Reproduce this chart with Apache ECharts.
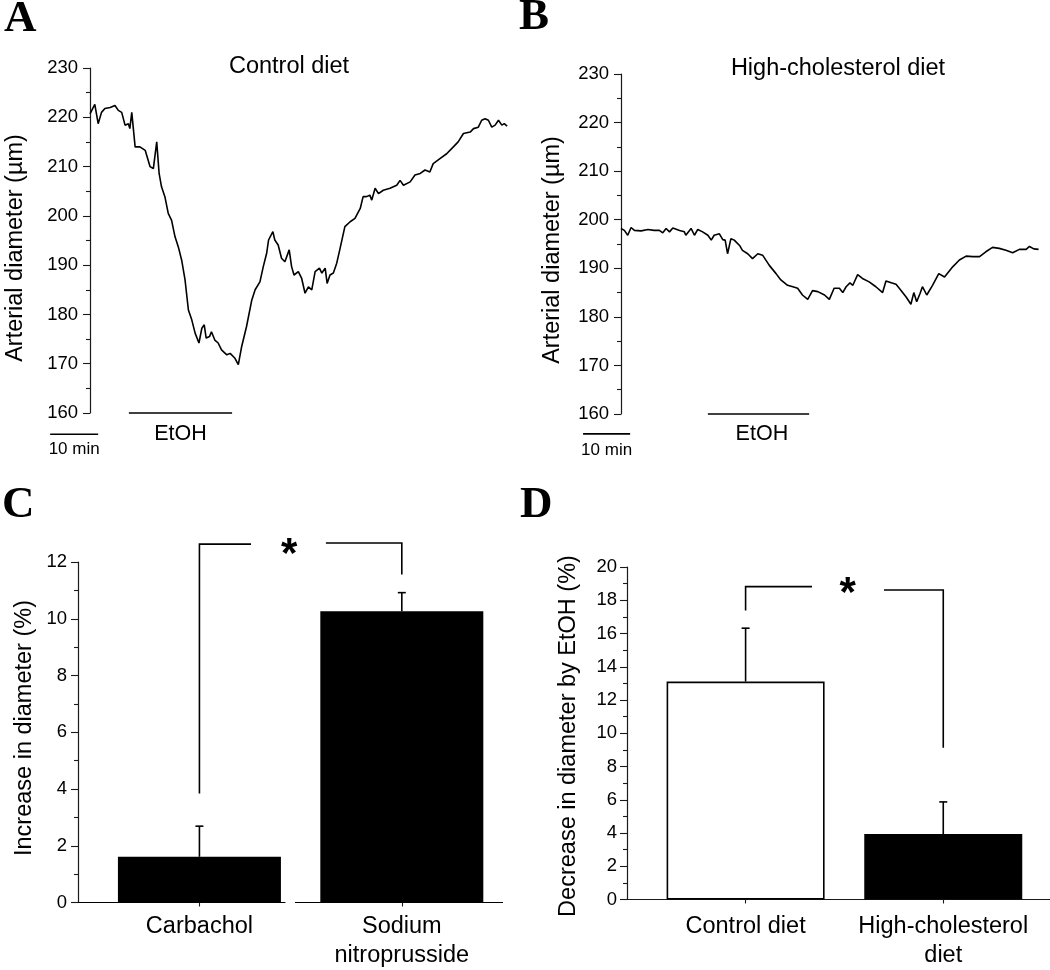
<!DOCTYPE html>
<html><head><meta charset="utf-8">
<script src="https://cdn.jsdelivr.net/npm/echarts@6/dist/echarts.min.js"></script>
<style>html,body{margin:0;padding:0;background:#fff}#c{width:1050px;height:970px}</style>
</head><body><div id="c"></div>
<script>
// ---------- DATA ----------
// Panel A: control diet trace (time in min, diameter in µm)
const timeA = [0,1.0,1.7,2.4,3.1,4.2,5.2,5.9,6.6,7.3,8.0,8.3,8.7,9.4,10.4,11.5,12.5,13.2,13.9,14.4,14.9,15.6,16.3,17.0,17.7,18.4,19.1,19.8,20.5,21.2,21.9,22.7,23.3,23.8,24.2,24.9,25.3,26.0,26.7,27.4,28.5,29.2,30.2,30.9,31.6,32.6,33.7,34.4,35.4,36.1,36.8,37.2,38.1,38.5,39.2,39.9,40.6,41.0,41.5,42.0,42.5,43.4,44.1,44.8,45.5,46.2,46.9,47.8,48.3,49.0,49.4,50.0,50.7,51.4,52.1,53.1,54.2,55.2,56.3,56.9,57.6,58.3,58.7,59.4,60.1,61.1,62.5,63.9,64.6,65.3,66.7,67.7,68.8,69.8,70.8,71.5,72.9,74.3,75.7,76.7,77.8,79.2,79.9,80.9,81.6,82.3,83.0,83.7,84.4,85.1,85.8,86.3,86.9];
const diamA = [220.7,222.6,218.7,221,221.8,222,222.4,221.4,221,218.4,218.7,217.7,221,214,214,213.3,210,209.6,215,208.6,205.9,203.9,200.5,199.1,195.8,193.7,191,187,180.9,178.9,176.2,174.2,177.2,177.9,175.2,175.5,176.5,174.8,174.2,172.8,171.8,172.1,171.1,169.8,173.5,177.5,182.9,185,186.6,189.7,192.4,195.1,196.8,195.1,194.1,191.4,190.7,190.4,193.1,189.7,188,188.7,187.3,184.3,185.6,185,188.7,189.4,188.4,189.4,186.3,188,188.4,190.4,193.4,197.8,198.8,199.5,201.5,203.9,203.9,204.2,203.2,205.6,204.5,205.2,205.6,206.2,207.2,206.2,206.9,208.3,208.6,209.3,208.9,210.6,211.6,212.6,214,215,216.7,217,217.7,218,219.4,219.7,219.4,218,218.4,219.4,218.4,218.7,218.2];
// Panel B: high-cholesterol diet trace
const timeB = [0,0.7,1.4,2.1,2.8,4.2,5.6,6.9,8.0,8.7,9.4,10.1,10.8,12.2,13.2,13.5,14.6,15.3,16.0,17.0,18.1,18.8,19.4,20.5,21.2,21.7,22.2,22.9,23.6,24.7,25.3,26.4,27.4,28.5,29.5,30.9,32.3,33.3,34.7,35.8,36.8,37.8,38.9,39.9,41.0,42.4,43.4,44.4,45.5,46.2,46.9,47.7,48.3,49.3,50.3,51.7,53.1,54.5,55.2,56.3,57.3,58.3,59.4,60.4,61.0,61.6,62.3,62.8,63.7,64.9,66.2,67.4,69.1,70.5,71.9,73.3,74.7,76.0,77.4,78.8,80.2,81.6,83.0,84.4,85.1,86.0,87.0];
const diamB = [198.2,197.8,196.8,198.4,197.8,197.7,198.0,197.8,197.8,197.3,198.2,197.5,198.3,197.8,197.5,196.8,198.2,196.8,198,197.5,196.8,195.8,196.8,197.1,195.9,195.8,193,196.1,195.8,194.7,193.7,193,192,193,192.7,190.6,188.9,187.6,186.5,186.2,185.9,184.5,183.6,185.4,185.2,184.5,183.6,185.9,185.9,185,186.2,187,186.5,188.7,187.9,187.2,186.2,185,187.4,187,186.7,185.5,184.1,182.6,185,183.1,184.8,186.2,184.5,186.5,188.9,188.2,190.3,191.7,192.5,192.4,192.4,193.4,194.3,194.1,193.7,193.2,193.9,193.9,194.5,194.0,193.9];
// EtOH application period (min) and 10-min scale bar
const etohA = [8.1, 29.6];
const etohB = [18.1, 39.2];
const scaleA = [-8.3, 1.7];
const scaleB = [-7.9, 1.9];
const scaleLen = 10; // min
// Panel C
const catC = ['Carbachol', 'Sodium\nnitroprusside'];
const meanC = [1.61, 10.26];
const errC = [1.08, 0.66];
// Panel D
const catD = ['Control diet', 'High-cholesterol\ndiet'];
const meanD = [13.11, 3.94];
const errD = [3.21, 1.93];
// significance brackets (x in category units, y in %)
const bracketC = [[[1,3.84],[1,12.63],[1.255,12.63]], [[1.625,12.67],[2,12.67],[2,11.56]]];
const bracketD = [[[1,17.38],[1,18.82],[1.336,18.82]], [[1.70,18.62],[2,18.62],[2,9.13]]];
const starC = [1.444, 12.57];
const starD = [1.516, 18.93];
// the category axis of panel C is drawn in two pieces (x in category units)
const axisPiecesC = [[[0.4,0],[1.425,0]], [[1.472,0],[2.5,0]]];

// ---------- STYLE ----------
const SANS = 'Liberation Sans, Arial, sans-serif';
const SERIF = 'Liberation Serif, Times New Roman, serif';
const AX = '#1a1a1a';
const LW = 1.6;

function yAxisCfg(grid, min, max, interval, margin) {
  return {
    gridIndex: grid, type: 'value', min, max, interval,
    axisLine: {show: true, lineStyle: {color: AX, width: 1.2}},
    axisTick: {show: true, length: 7, lineStyle: {color: AX, width: 1.1}},
    minorTick: {show: true, splitNumber: 2, length: 4, lineStyle: {color: AX, width: 1.1}},
    axisLabel: {color: '#000', fontSize: 18.5, fontFamily: SANS, margin},
    splitLine: {show: false}, minorSplitLine: {show: false}
  };
}
function xTraceCfg(grid) {
  return {gridIndex: grid, type: 'value', min: 0, max: 87, show: false};
}
function xCatCfg(grid, cats, min, max, margin, showLine) {
  return {
    gridIndex: grid, type: 'value', min, max,
    axisLine: {show: showLine, onZero: false, lineStyle: {color: AX, width: 1.2}},
    axisTick: {show: true, customValues: [1, 2], length: 4, lineStyle: {color: AX, width: 1.1}},
    axisLabel: {show: true, customValues: [1, 2], formatter: v => cats[Math.round(v) - 1],
      color: '#000', fontSize: 23.5, fontFamily: SANS, lineHeight: 29, margin},
    splitLine: {show: false}
  };
}
// polyline drawn through the axes' scales (not clipped)
function seg(grid, pts, width) {
  return {type: 'custom', xAxisIndex: grid, yAxisIndex: grid, silent: true, z: 5, clip: false,
    data: [pts[0]],
    renderItem: (params, api) => ({
      type: 'polyline',
      shape: {points: pts.map(p => api.coord(p))},
      style: {stroke: '#000', lineWidth: width || LW, fill: null}
    })};
}
function texts(grid, items, font, dy) {
  return {type: 'custom', xAxisIndex: grid, yAxisIndex: grid, silent: true, z: 10, clip: false,
    data: items.map(it => [it[0], it[1]]),
    renderItem: (params, api) => {
      const it = items[params.dataIndex];
      const p = api.coord([it[0], it[1]]);
      return {type: 'text', x: p[0], y: p[1] + (dy || 0),
        style: {text: it[2], font, fill: '#000', textAlign: 'center', textVerticalAlign: 'middle'}};
    }};
}
function errBars(grid, means, errs) {
  return {type: 'custom', xAxisIndex: grid, yAxisIndex: grid, silent: true, z: 6, clip: false,
    data: means.map((m, i) => [i + 1, m, errs[i]]),
    renderItem: (params, api) => {
      const x = api.value(0), m = api.value(1), e = api.value(2);
      const p0 = api.coord([x, m]), p1 = api.coord([x, m + e]);
      const st = {stroke: '#000', lineWidth: LW};
      return {type: 'group', children: [
        {type: 'line', shape: {x1: p0[0], y1: p0[1], x2: p1[0], y2: p1[1]}, style: st},
        {type: 'line', shape: {x1: p1[0] - 4, y1: p1[1], x2: p1[0] + 4, y2: p1[1]}, style: st}
      ]};
    }};
}

const chart = echarts.init(document.getElementById('c'), null, {renderer: 'canvas'});
const dStyles = [{color: '#fff', borderColor: '#000', borderWidth: LW}, {color: '#000'}];
const titleFont = '23.5px ' + SANS;
const letterFont = 'bold 45px ' + SERIF;
function gtext(x, y, text, font, rot, align) {
  return {type: 'text', x, y, rotation: rot || 0,
    style: {text, font, fill: '#000', textAlign: align || 'center', textVerticalAlign: 'middle'}};
}

const option = {
  animation: false,
  backgroundColor: '#fff',
  grid: [
    {left: 90, top: 68, width: 417.6, height: 345},
    {left: 621, top: 74, width: 417.6, height: 340},
    {left: 78, top: 562, width: 425, height: 342},
    {left: 627, top: 567, width: 423, height: 338}
  ],
  xAxis: [xTraceCfg(0), xTraceCfg(1),
    xCatCfg(2, catC, 0.4, 2.5, 9.5, false), xCatCfg(3, catD, 0.4, 2.54, 12.5, true)],
  yAxis: [yAxisCfg(0, 160, 230, 10, 12), yAxisCfg(1, 160, 230, 10, 12),
    yAxisCfg(2, 0, 12, 2, 11), yAxisCfg(3, 0, 20, 2, 10)],
  graphic: [
    gtext(4, 19, 'A', letterFont, 0, 'left'),
    gtext(519, 17, 'B', letterFont, 0, 'left'),
    gtext(2, 505, 'C', letterFont, 0, 'left'),
    gtext(520, 505, 'D', letterFont, 0, 'left'),
    gtext(289, 67, 'Control diet', titleFont),
    gtext(838, 69, 'High-cholesterol diet', titleFont),
    gtext(16, 248, 'Arterial diameter (µm)', titleFont, Math.PI / 2),
    gtext(553, 250, 'Arterial diameter (µm)', titleFont, Math.PI / 2),
    gtext(25, 728, 'Increase in diameter (%)', titleFont, Math.PI / 2),
    gtext(569, 736, 'Decrease in diameter by EtOH (%)', titleFont, Math.PI / 2)
  ],
  series: [
    // A
    {type: 'line', xAxisIndex: 0, yAxisIndex: 0, data: timeA.map((t, i) => [t, diamA[i]]),
      symbol: 'none', lineStyle: {color: '#000', width: LW}, silent: true},
    seg(0, [[etohA[0], 160], [etohA[1], 160]]),
    seg(0, [[scaleA[0], 155.7], [scaleA[1], 155.7]]),
    texts(0, [[(etohA[0] + etohA[1]) / 2, 155.7, 'EtOH']], '21.5px ' + SANS),
    texts(0, [[(scaleA[0] + scaleA[1]) / 2, 152.6, scaleLen + ' min']], '17px ' + SANS),
    // B
    {type: 'line', xAxisIndex: 1, yAxisIndex: 1, data: timeB.map((t, i) => [t, diamB[i]]),
      symbol: 'none', lineStyle: {color: '#000', width: LW}, silent: true},
    seg(1, [[etohB[0], 160], [etohB[1], 160]]),
    seg(1, [[scaleB[0], 155.9], [scaleB[1], 155.9]]),
    texts(1, [[(etohB[0] + etohB[1]) / 2 + 0.7, 155.9, 'EtOH']], '21.5px ' + SANS),
    texts(1, [[(scaleB[0] + scaleB[1]) / 2, 152.6, scaleLen + ' min']], '17px ' + SANS),
    // C
    {type: 'bar', xAxisIndex: 2, yAxisIndex: 2, barWidth: 163, silent: true,
      data: meanC.map((m, i) => [i + 1, m]), itemStyle: {color: '#000'}},
    errBars(2, meanC, errC),
    seg(2, axisPiecesC[0], 1.2), seg(2, axisPiecesC[1], 1.2),
    seg(2, bracketC[0]), seg(2, bracketC[1]),
    texts(2, [[starC[0], starC[1], '*']], 'bold 42px ' + SANS, 10),
    // D
    {type: 'bar', xAxisIndex: 3, yAxisIndex: 3, barWidth: 158, silent: true,
      data: meanD.map((m, i) => ({value: [i + 1, m], itemStyle: dStyles[i]}))},
    errBars(3, meanD, errD),
    seg(3, bracketD[0]), seg(3, bracketD[1]),
    texts(3, [[starD[0], starD[1], '*']], 'bold 42px ' + SANS, 10)
  ]
};
chart.setOption(option);
</script></body></html>
